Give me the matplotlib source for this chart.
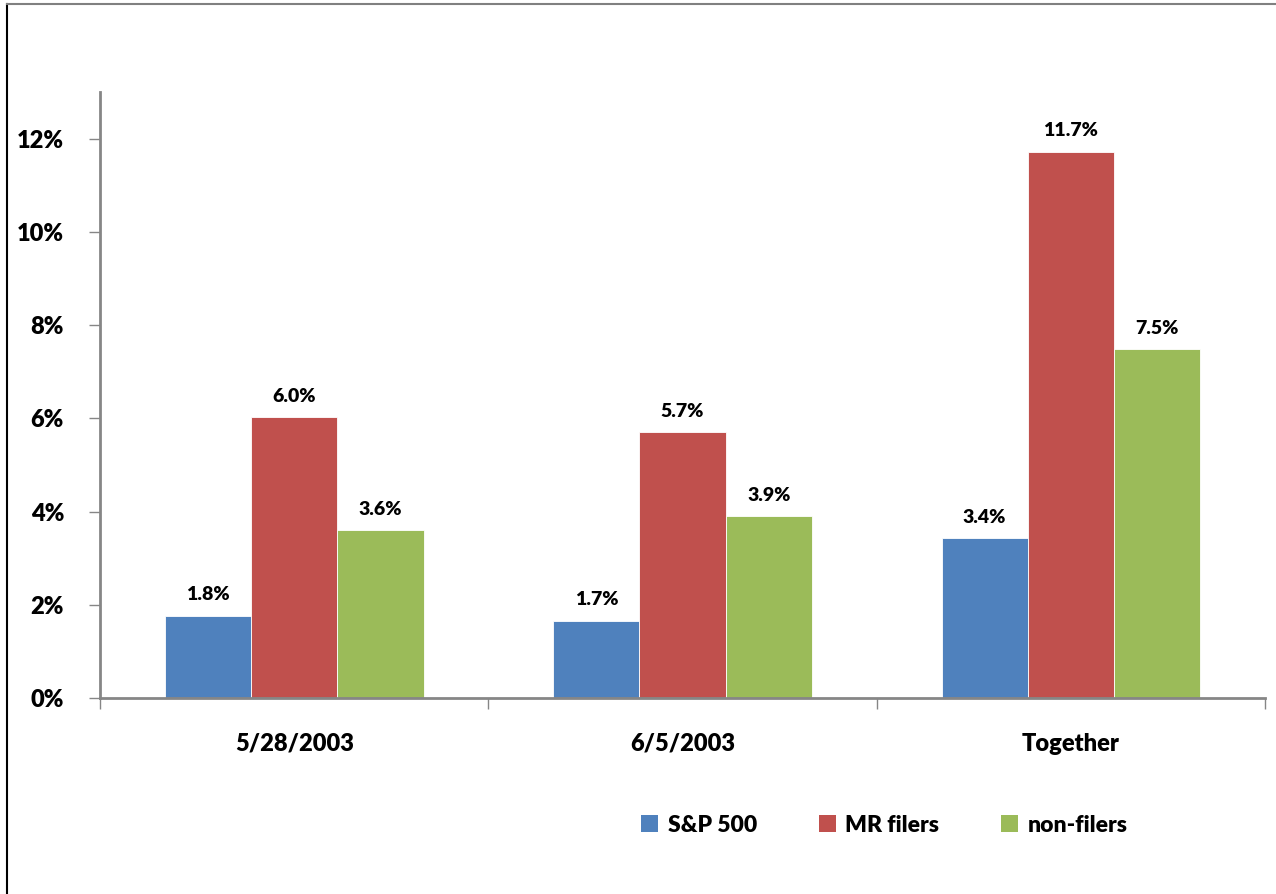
import matplotlib.pyplot as plt
from matplotlib.lines import Line2D
from matplotlib.patches import Patch
import numpy as np

plt.rcParams['font.family'] = ['Lato', 'DejaVu Sans']
plt.rcParams['font.weight'] = 'heavy'

categories = ['5/28/2003', '6/5/2003', 'Together']
series = ['S&P 500', 'MR filers', 'non-filers']
sp500 = [1.76, 1.66, 3.43]
mr_filers = [6.02, 5.70, 11.72]
non_filers = [3.60, 3.90, 7.48]

colors = ['#4F81BD', '#C0504D', '#9BBB59']
axis_grey = '#868686'

fig = plt.figure(figsize=(12.76, 8.94), dpi=100)
ax = fig.add_axes([0.0784, 0.2192, 0.913, 0.678])

x = np.arange(len(categories))
w = 0.222
for i, (vals, col) in enumerate(zip([sp500, mr_filers, non_filers], colors)):
    bars = ax.bar(x + (i - 1) * w, vals, w, color=col, edgecolor='white',
                  linewidth=0.6, zorder=2)
    for b, v in zip(bars, vals):
        ax.annotate(f'{v:.1f}%', (b.get_x() + b.get_width() / 2, v),
                    xytext=(0, 9), textcoords='offset points',
                    ha='center', va='bottom', fontsize=14, fontweight='heavy')

ax.set_xlim(-0.5, 2.5)
ax.set_ylim(0, 13)
ax.set_yticks(range(0, 13, 2))
ax.set_yticklabels([f'{t}%' for t in range(0, 13, 2)], fontsize=17)

# category labels sit between boundary ticks
ax.set_xticks([-0.5, 0.5, 1.5, 2.5])
ax.set_xticklabels([])
ax.set_xticks(x, minor=True)
ax.set_xticklabels(categories, minor=True, fontsize=17)
ax.tick_params(axis='x', which='minor', length=0, pad=25)
ax.tick_params(axis='x', which='major', length=8, width=1, color=axis_grey)
ax.tick_params(axis='y', length=8, width=1, color=axis_grey, pad=18)

for s in ['top', 'right']:
    ax.spines[s].set_visible(False)
for s in ['left', 'bottom']:
    ax.spines[s].set_color(axis_grey)
    ax.spines[s].set_linewidth(2)

handles = [Patch(facecolor=c, edgecolor='none') for c in colors]
fig.legend(handles, series, loc='center', bbox_to_anchor=(0.693, 0.077),
           ncol=3, frameon=False, fontsize=16.5, handlelength=0.75,
           handleheight=0.75, handletextpad=0.4, columnspacing=2.7)

# outer chart frame: left and top edges
fig.add_artist(Line2D([0.0055, 0.0055], [0, 0.996], color='black', lw=1.5,
                      transform=fig.transFigure))
fig.add_artist(Line2D([0.0055, 1], [0.996, 0.996], color='#808080', lw=1.5,
                      transform=fig.transFigure))

fig.savefig('out.png', dpi=100)
